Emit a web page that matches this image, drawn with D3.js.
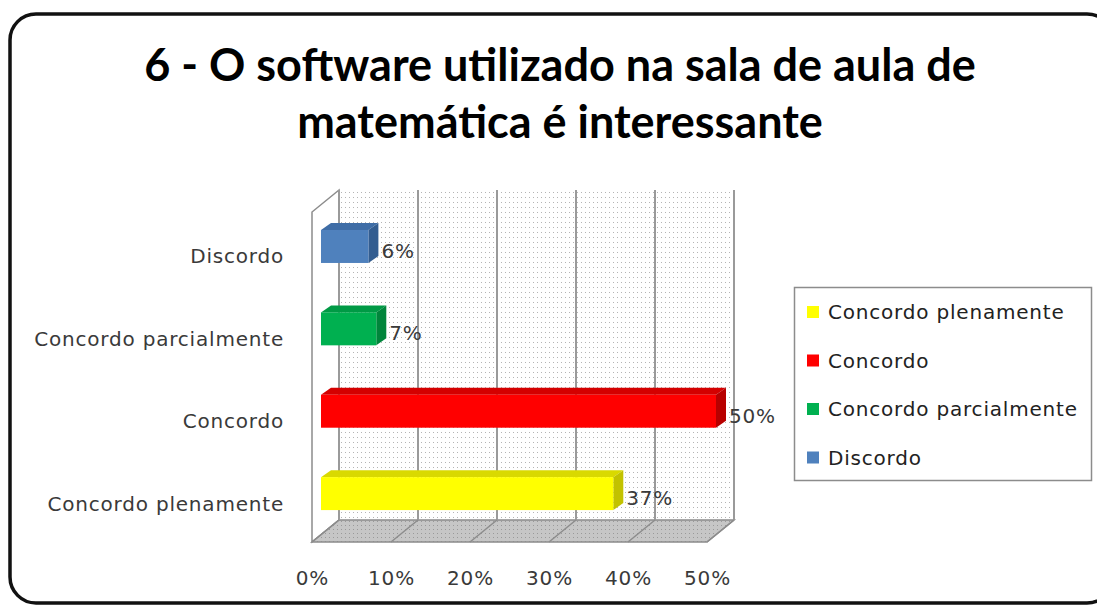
<!DOCTYPE html>
<html>
<head>
<meta charset="utf-8">
<script src="https://cdn.jsdelivr.net/npm/d3@7"></script>
<style>
  html, body { margin: 0; padding: 0; background: #fff; }
  svg { display: block; }
</style>
</head>
<body>
<svg id="chart" width="1097" height="606"></svg>
<script>
// Survey question 6 – share of answers per category
const categories = ["Discordo", "Concordo parcialmente", "Concordo", "Concordo plenamente"];
const values = [0.06, 0.07, 0.50, 0.37];
const valueLabels = ["6%", "7%", "50%", "37%"];
const tickValues = [0, 0.1, 0.2, 0.3, 0.4, 0.5];
const legendOrder = ["Concordo plenamente", "Concordo", "Concordo parcialmente", "Discordo"];
const titleLines = ["6 - O software utilizado na sala de aula de", "matemática é interessante"];

const palette = {
  "Concordo plenamente":   { front: "#ffff00", top: "#d9d900", side: "#c2c200" },
  "Concordo":              { front: "#ff0000", top: "#d40000", side: "#b80000" },
  "Concordo parcialmente": { front: "#00b050", top: "#009a45", side: "#00853b" },
  "Discordo":              { front: "#4f81bd", top: "#3f6da6", side: "#335d90" }
};

const svg = d3.select("#chart");
const labelFont = "'DejaVu Sans', Verdana, sans-serif";
const labelSize = 20;
const labelSpacing = 0.8;
const textGrey = "#3a3a3a";

// Dotted fill used on the back wall and floor
const defs = svg.append("defs");
const wallPat = defs.append("pattern").attr("id", "wallDots")
  .attr("patternUnits", "userSpaceOnUse").attr("width", 4).attr("height", 5);
wallPat.append("rect").attr("width", 4).attr("height", 5).attr("fill", "#fff");
wallPat.append("rect").attr("x", 1).attr("y", 2).attr("width", 1).attr("height", 1).attr("fill", "#b4b4b4");
const floorPat = defs.append("pattern").attr("id", "floorDots")
  .attr("patternUnits", "userSpaceOnUse").attr("width", 4).attr("height", 4);
floorPat.append("rect").attr("width", 4).attr("height", 4).attr("fill", "#c6c6c6");
floorPat.append("rect").attr("x", 1).attr("y", 1).attr("width", 1).attr("height", 1).attr("fill", "#9a9a9a");

// Outer rounded frame (its right side runs just past the edge)
svg.append("rect")
  .attr("x", 10).attr("y", 14).attr("width", 1103).attr("height", 589)
  .attr("rx", 26).attr("ry", 26)
  .attr("fill", "#fff").attr("stroke", "#111").attr("stroke-width", 3.5);

// Title
svg.append("g").selectAll("text").data(titleLines).join("text")
  .attr("x", 560).attr("y", (d, i) => 81 + i * 57)
  .attr("text-anchor", "middle")
  .attr("font-family", "Lato, 'Open Sans', sans-serif")
  .attr("font-weight", "bold").attr("font-size", 45)
  .attr("fill", "#000")
  .text(d => d);

// Scales: value axis on the front plane, bars set a little deeper
const xFront = d3.scaleLinear().domain([0, 0.5]).range([312, 707]);
const depthDx = 27, depthDy = -22;     // full wall depth
const barDx = 9;                       // bar front face depth shift
const barDepthX = 10, barDepthY = -7;  // bar thickness
const floorY = 542;
const wallTop = 212;

const y = d3.scaleBand().domain(categories)
  .range([205.3, 534.8]).paddingInner(0.6).paddingOuter(0.3);

const [x0, x1] = xFront.range();

// Left side wall
svg.append("path")
  .attr("d", `M${x0},${floorY} L${x0},${wallTop} L${x0 + depthDx},${wallTop + depthDy} L${x0 + depthDx},${floorY + depthDy} Z`)
  .attr("fill", "#fff").attr("stroke", "#8c8c8c").attr("stroke-width", 1.5);

// Back wall
svg.append("rect")
  .attr("x", x0 + depthDx).attr("y", wallTop + depthDy)
  .attr("width", x1 - x0).attr("height", floorY - wallTop)
  .attr("fill", "url(#wallDots)");

// Floor
svg.append("path")
  .attr("d", `M${x0},${floorY} L${x0 + depthDx},${floorY + depthDy} L${x1 + depthDx},${floorY + depthDy} L${x1},${floorY} Z`)
  .attr("fill", "url(#floorDots)").attr("stroke", "#8c8c8c").attr("stroke-width", 1.5);

// Gridlines: vertical on the back wall, diagonal across the floor
const grid = svg.append("g");
grid.selectAll("line.wall").data(tickValues).join("line").attr("class", "wall")
  .attr("x1", d => xFront(d) + depthDx).attr("x2", d => xFront(d) + depthDx)
  .attr("y1", wallTop + depthDy).attr("y2", floorY + depthDy)
  .attr("stroke", "#9a9a9a").attr("stroke-width", 2);
grid.selectAll("line.floor").data(tickValues).join("line").attr("class", "floor")
  .attr("x1", d => xFront(d) + depthDx).attr("x2", d => xFront(d))
  .attr("y1", floorY + depthDy).attr("y2", floorY)
  .attr("stroke", "#8c8c8c").attr("stroke-width", 1.5);

// 3D bars
const bars = svg.append("g").selectAll("g").data(categories).join("g");
bars.each(function (c, i) {
  const g = d3.select(this);
  const col = palette[c];
  const bx0 = xFront(0) + barDx;
  const bx1 = xFront(values[i]) + barDx;
  const by0 = y(c);
  const by1 = y(c) + y.bandwidth();
  // top face
  g.append("path")
    .attr("d", `M${bx0},${by0} L${bx0 + barDepthX},${by0 + barDepthY} L${bx1 + barDepthX},${by0 + barDepthY} L${bx1},${by0} Z`)
    .attr("fill", col.top);
  // end face
  g.append("path")
    .attr("d", `M${bx1},${by0} L${bx1 + barDepthX},${by0 + barDepthY} L${bx1 + barDepthX},${by1 + barDepthY} L${bx1},${by1} Z`)
    .attr("fill", col.side);
  // front face
  g.append("rect")
    .attr("x", bx0).attr("y", by0).attr("width", bx1 - bx0).attr("height", by1 - by0)
    .attr("fill", col.front);
});

function labelStyle(sel) {
  sel.attr("font-family", labelFont).attr("font-size", labelSize)
    .attr("letter-spacing", labelSpacing);
}

// Value labels
svg.append("g").selectAll("text").data(categories).join("text")
  .attr("x", (c, i) => xFront(values[i]) + barDx + 13)
  .attr("y", c => y(c) + y.bandwidth() / 2 + 11.5)
  .call(labelStyle)
  .attr("fill", textGrey)
  .text((c, i) => valueLabels[i]);

// Category labels
svg.append("g").selectAll("text").data(categories).join("text")
  .attr("x", 284)
  .attr("y", c => y(c) + y.bandwidth() / 2 + 17)
  .attr("text-anchor", "end")
  .call(labelStyle)
  .attr("fill", textGrey)
  .text(c => c);

// Value axis tick labels
const axis = d3.axisBottom(xFront).tickValues(tickValues).tickFormat(d3.format(".0%")).tickSize(0).tickPadding(0);
const axisG = svg.append("g").attr("transform", `translate(0, 571)`).call(axis);
axisG.select(".domain").remove();
axisG.selectAll("text")
  .call(labelStyle)
  .attr("fill", textGrey);

// Legend
const legend = svg.append("g");
legend.append("rect")
  .attr("x", 794.5).attr("y", 287.5).attr("width", 297).attr("height", 193)
  .attr("fill", "#fff").attr("stroke", "#8c8c8c").attr("stroke-width", 1.5);
const items = legend.selectAll("g").data(legendOrder).join("g")
  .attr("transform", (d, i) => `translate(807, ${312 + i * 48.5})`);
items.append("rect")
  .attr("x", 0).attr("y", -6).attr("width", 12).attr("height", 12)
  .attr("fill", d => palette[d].front);
items.append("text")
  .attr("x", 21).attr("y", 7)
  .call(labelStyle)
  .attr("fill", "#222")
  .text(d => d);
</script>
</body>
</html>
